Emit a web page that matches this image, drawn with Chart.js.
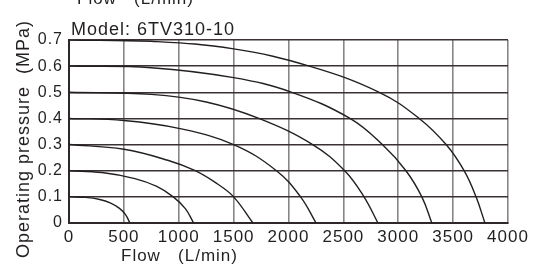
<!DOCTYPE html>
<html>
<head>
<meta charset="utf-8">
<script src="https://cdn.jsdelivr.net/npm/chart.js@4"></script>
<style>
  body { margin: 0; background: #fff; }
  #wrap { width: 535px; height: 267px; }
</style>
</head>
<body>
<div id="wrap"><canvas id="flowChart" width="535" height="267"></canvas></div>
<script>
// flow (L/min) vs pressure (MPa), one curve per start pressure
let flow07 = [0, 750, 1500, 2190, 2827, 3191, 3436, 3600, 3709, 3790];
let pres07 = [0.7, 0.695, 0.666, 0.6, 0.5, 0.4, 0.3, 0.2, 0.1, 0];
let flow06 = [0, 750, 1500, 2030, 2560, 2855, 3070, 3215, 3306];
let pres06 = [0.6, 0.594, 0.556, 0.5, 0.4, 0.3, 0.2, 0.1, 0];
let flow05 = [0, 750, 1250, 1730, 2220, 2512, 2688, 2815];
let pres05 = [0.5, 0.492, 0.463, 0.4, 0.3, 0.2, 0.1, 0];
let flow04 = [0, 500, 1000, 1500, 1890, 2110, 2251];
let pres04 = [0.4, 0.392, 0.362, 0.3, 0.2, 0.1, 0];
let flow03 = [0, 500, 900, 1150, 1350, 1500, 1676];
let pres03 = [0.3, 0.282, 0.24, 0.2, 0.15, 0.1, 0];
let flow02 = [0, 300, 600, 800, 950, 1060, 1136];
let pres02 = [0.2, 0.193, 0.17, 0.14, 0.1, 0.055, 0];
let flow01 = [0, 150, 280, 380, 460, 515, 555];
let pres01 = [0.1, 0.098, 0.09, 0.076, 0.056, 0.032, 0];

let xTicks = [0, 500, 1000, 1500, 2000, 2500, 3000, 3500, 4000];
let yTicks = [0, 0.1, 0.2, 0.3, 0.4, 0.5, 0.6, 0.7];

let modelText = "Model: 6TV310-10";
let xTitle = "Flow   (L/min)";
let yTitle = "Operating pressure  (MPa)";

const ink = "#231f20";

function curve(flows, pressures) {
  return {
    data: flows.map((q, i) => ({ x: q, y: pressures[i] })),
    showLine: true,
    borderColor: ink,
    borderWidth: 1.4,
    pointRadius: 0,
    tension: 0.4,
    fill: false,
  };
}

// titles are placed by hand like the printed sheet (not centered on the axes)
const textPlugin = {
  id: "sheetText",
  beforeLayout(chart) {
    chart.ctx.letterSpacing = "1px";
  },
  beforeDraw(chart) {
    chart.ctx.letterSpacing = "1px";
  },
  afterDraw(chart) {
    let c = chart.ctx;
    c.save();
    c.letterSpacing = "1px";
    c.fillStyle = ink;
    c.textBaseline = "alphabetic";
    c.textAlign = "left";
    c.font = "17px Arial, 'Liberation Sans', sans-serif";
    c.fillText(xTitle, 77, 4);
    c.fillText(xTitle, 121, 261);
    c.font = "18px Arial, 'Liberation Sans', sans-serif";
    c.fillText(modelText, 71, 35);
    c.translate(29, 258);
    c.rotate(-Math.PI / 2);
    c.fillText(yTitle, 0, 0);
    c.restore();
  },
};

let ctx = document.getElementById("flowChart").getContext("2d");
let flowChart = new Chart(ctx, {
  type: "scatter",
  data: {
    datasets: [
      curve(flow07, pres07),
      curve(flow06, pres06),
      curve(flow05, pres05),
      curve(flow04, pres04),
      curve(flow03, pres03),
      curve(flow02, pres02),
      curve(flow01, pres01),
    ],
  },
  options: {
    responsive: false,
    animation: false,
    devicePixelRatio: 1,
    layout: { padding: { top: 40, right: 27, left: 0, bottom: 0 } },
    plugins: {
      legend: { display: false },
      tooltip: { enabled: false },
      title: { display: false },
    },
    scales: {
      x: {
        type: "linear",
        min: 0,
        max: 4000,
        afterBuildTicks: (axis) => {
          axis.ticks = xTicks.map((v) => ({ value: v }));
        },
        afterFit: (axis) => {
          axis.height = 44;
        },
        ticks: {
          color: ink,
          padding: 4,
          maxRotation: 0,
          autoSkip: false,
          font: { family: "Arial, 'Liberation Sans', sans-serif", size: 17 },
          callback: (v) => String(v),
        },
        grid: { color: "#8a8585", lineWidth: 1.6, drawTicks: false },
        border: { color: "#2e2828", width: 2 },
      },
      y: {
        type: "linear",
        min: 0,
        max: 0.7,
        afterBuildTicks: (axis) => {
          axis.ticks = yTicks.map((v) => ({ value: v }));
        },
        afterFit: (axis) => {
          axis.width = 69;
        },
        ticks: {
          color: ink,
          padding: 6,
          autoSkip: false,
          font: { family: "Arial, 'Liberation Sans', sans-serif", size: 16 },
          callback: (v) => (v === 0 ? "0" : v.toFixed(1)),
        },
        grid: { color: "#3a3232", lineWidth: 1.4, drawTicks: false },
        border: { color: "#2e2828", width: 2 },
      },
    },
  },
  plugins: [textPlugin],
});
</script>
</body>
</html>
